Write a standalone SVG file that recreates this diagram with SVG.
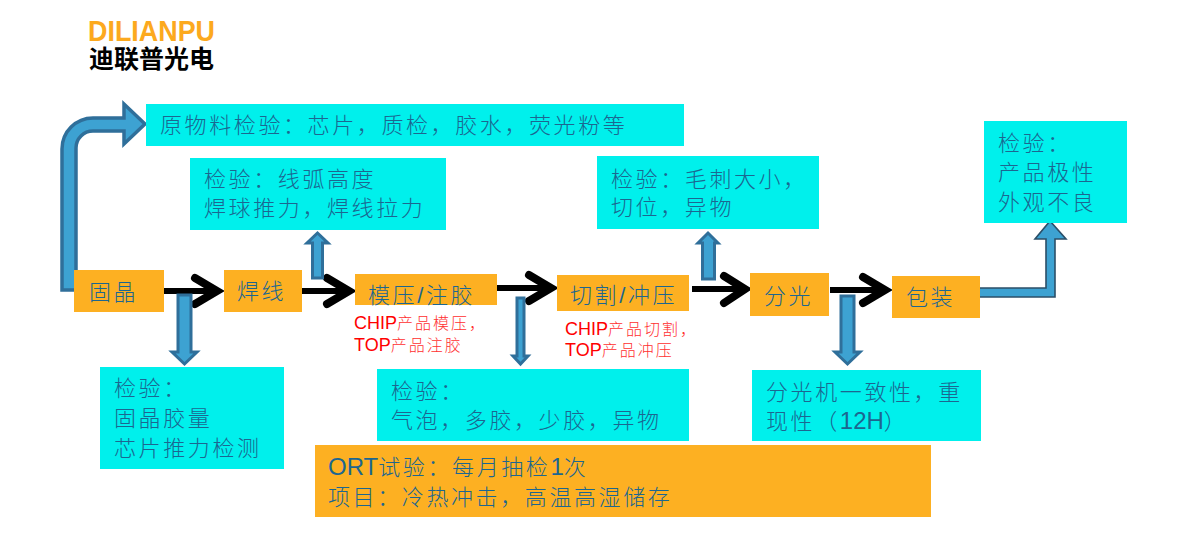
<svg xmlns="http://www.w3.org/2000/svg" width="1177" height="550" viewBox="0 0 1177 550">
<style>
.c{fill:#00f0ec}.o{fill:#fdb022}
text{font-family:"Liberation Sans","Noto Sans CJK SC",sans-serif}
.t{font-size:22px;letter-spacing:2.6px;fill:#1c6690;font-weight:300}
.l{font-size:24px;letter-spacing:0}
.r{font-size:16px;fill:#ff3030;letter-spacing:2px;font-weight:300}
.rl{font-size:18px;fill:#ff0000;letter-spacing:0}
.b{fill:#3da2d2;stroke:#2f6f9a;stroke-width:3}
.b2{fill:#3da2d2;stroke:#2b4f68;stroke-width:1.6}
.k{fill:none;stroke:#000;stroke-width:6}
.h{fill:none;stroke:#000;stroke-width:8;stroke-linecap:round}
</style>
<rect width="1177" height="550" fill="#fff"/>
<g id="logo">
<text x="88" y="41" font-size="30" font-weight="700" fill="#fca91e" textLength="127" lengthAdjust="spacingAndGlyphs">DILIANPU</text>
<text x="89" y="68" font-size="25" font-weight="700" fill="#000">迪联普光电</text>
</g>
<g id="connectors">
<path class="k" d="M164 291H218"/><path class="h" d="M195 278L217 291L195 304"/>
<path class="k" d="M302 291H350"/><path class="h" d="M327 278L349 291L327 304"/>
<path class="k" d="M497 288H552"/><path class="h" d="M529 275L551 288L529 301"/>
<path class="k" d="M692 289H746"/><path class="h" d="M724 276L745 289L724 303"/>
<path class="k" d="M830 290H888"/><path class="h" d="M863 277L885 290L863 303"/>
<path class="b" style="stroke-width:3.5" d="M62 290V149A31 31 0 0 1 93 118H124V104L145 124L124 144V131H93A17 17 0 0 0 76 148V290Z"/>
<path class="b" d="M178 295H191V352H197L184.500 364L172 352H178Z"/>
<path class="b" d="M312.500 278V243H307L317.500 233L328 243H322.500V278Z"/>
<path class="b" d="M517 298H524V356H528L520.500 364L513 356H517Z"/>
<path class="b" d="M702.500 279V243H698L708 233L718 243H714.500V279Z"/>
<path class="b" d="M841 296H854V352H860L847.500 364L835 352H841Z"/>
<path class="b2" d="M979 288H1046V239H1035L1050 221L1066 239H1055V297H979Z"/>
</g>
<g id="n-raw"><rect class="c" x="146" y="104" width="538" height="42"/><text class="t" x="160" y="133">原物料检验：芯片，质检，胶水，荧光粉等</text></g>
<g id="n-wire-check"><rect class="c" x="190" y="158" width="256" height="72"/><text class="t" x="204" y="187">检验：线弧高度</text><text class="t" x="204" y="216">焊球推力，焊线拉力</text></g>
<g id="n-cut-check"><rect class="c" x="597" y="156" width="222" height="73"/><text class="t" x="611" y="187">检验：毛刺大小，</text><text class="t" x="611" y="215">切位，异物</text></g>
<g id="n-pack-check"><rect class="c" x="984" y="121" width="143" height="102"/><text class="t" x="998" y="151">检验：</text><text class="t" x="998" y="180">产品极性</text><text class="t" x="998" y="210">外观不良</text></g>
<g id="n-die"><rect class="o" x="74" y="270" width="90" height="42"/><text class="t" x="89" y="300">固晶</text></g>
<g id="n-wire"><rect class="o" x="224" y="270" width="78" height="42"/><text class="t" x="237" y="299">焊线</text></g>
<g id="n-mold"><rect class="o" x="355" y="274" width="142" height="31"/><text class="t" x="368" y="303">模压/注胶</text></g>
<g id="n-cut"><rect class="o" x="557" y="275" width="132" height="36"/><text class="t" x="570" y="303">切割/冲压</text></g>
<g id="n-sort"><rect class="o" x="750" y="273" width="79" height="43"/><text class="t" x="764" y="304">分光</text></g>
<g id="n-pack"><rect class="o" x="892" y="276" width="88" height="42"/><text class="t" x="906" y="305">包装</text></g>
<g id="n-mold-note"><text class="r" x="354" y="329"><tspan class="rl">CHIP</tspan>产品模压，</text><text class="r" x="354" y="351"><tspan class="rl">TOP</tspan>产品注胶</text></g>
<g id="n-cut-note"><text class="r" x="565" y="335"><tspan class="rl">CHIP</tspan>产品切割，</text><text class="r" x="565" y="356"><tspan class="rl">TOP</tspan>产品冲压</text></g>
<g id="n-die-check"><rect class="c" x="100" y="367" width="184" height="102"/><text class="t" x="114" y="396">检验：</text><text class="t" x="114" y="426">固晶胶量</text><text class="t" x="114" y="456">芯片推力检测</text></g>
<g id="n-mold-check"><rect class="c" x="377" y="369" width="312" height="72"/><text class="t" x="391" y="399">检验：</text><text class="t" x="391" y="428">气泡，多胶，少胶，异物</text></g>
<g id="n-sort-check"><rect class="c" x="752" y="370" width="229" height="71"/><text class="t" x="766" y="400">分光机一致性，重</text><text class="t" x="766" y="429">现性（<tspan class="l">12H</tspan>）</text></g>
<g id="n-ort"><rect class="o" x="315" y="445" width="616" height="72"/><text class="t" x="328" y="475"><tspan class="l">ORT</tspan>试验：每月抽检<tspan class="l">1</tspan>次</text><text class="t" x="328" y="505">项目：冷热冲击，高温高湿储存</text></g>
</svg>
